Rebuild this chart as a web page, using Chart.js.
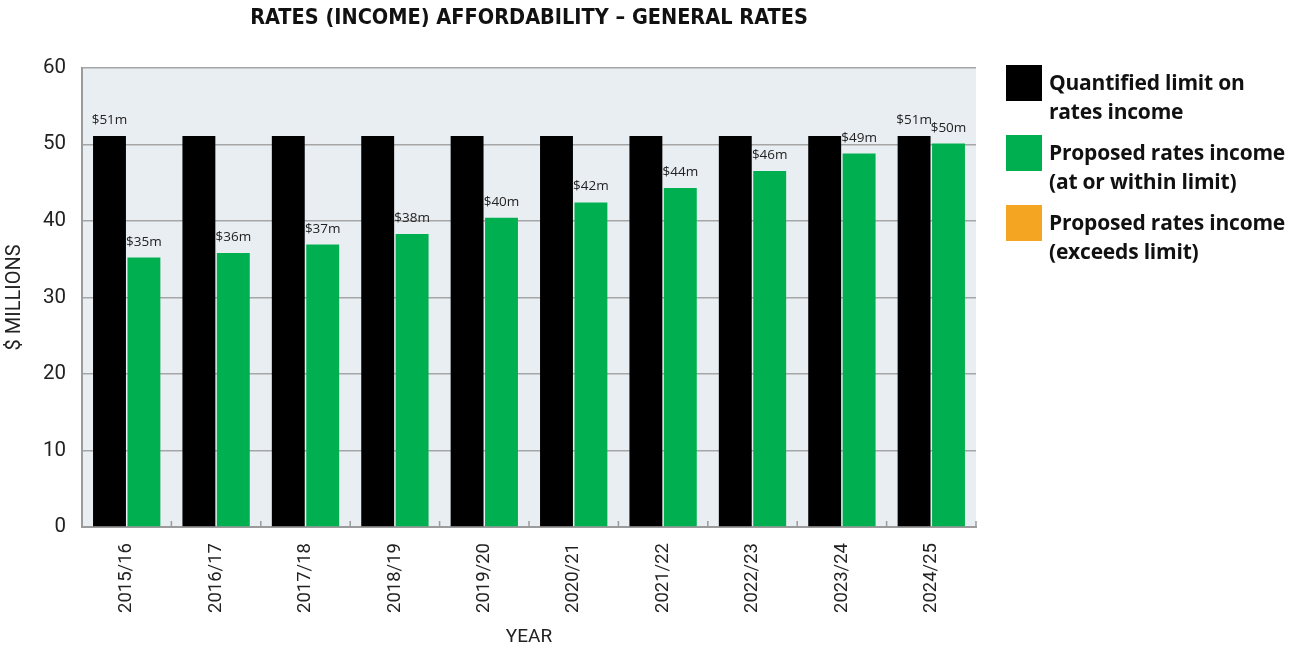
<!DOCTYPE html>
<html>
<head>
<meta charset="utf-8">
<script src="https://cdn.jsdelivr.net/npm/chart.js@4/dist/chart.umd.min.js"></script>
<style>
    html, body { margin: 0; padding: 0; background: #fff; }
    #wrap { position: relative; width: 1291px; height: 649px; }
    #legend { position: absolute; left: 1006px; top: 65px; font-family: "Open Sans", sans-serif; font-weight: 700; font-size: 21px; color: #111; }
    .legend-item { position: relative; height: 70px; }
    .legend-box { position: absolute; left: 0; top: 0; width: 36px; height: 36px; }
    .legend-text { position: absolute; left: 43px; top: 3px; line-height: 29px; white-space: nowrap; letter-spacing: -0.2px; }
</style>
</head>
<body>
<div id="wrap">
    <canvas id="chart" width="1291" height="649"></canvas>
    <div id="legend"></div>
</div>
<script>
// chart data
var years = ["2015/16", "2016/17", "2017/18", "2018/19", "2019/20", "2020/21", "2021/22", "2022/23", "2023/24", "2024/25"];
var limitValues = [51.1, 51.1, 51.1, 51.1, 51.1, 51.1, 51.1, 51.1, 51.1, 51.1];
var proposedValues = [35.2, 35.8, 36.9, 38.3, 40.4, 42.4, 44.3, 46.5, 48.8, 50.1];
var limitLabels = ["$51m", "", "", "", "", "", "", "", "", "$51m"];
var proposedLabels = ["$35m", "$36m", "$37m", "$38m", "$40m", "$42m", "$44m", "$46m", "$49m", "$50m"];
var yTicks = [0, 10, 20, 30, 40, 50, 60];

var legendLabels = ["Quantified limit on<br>rates income", "Proposed rates income<br>(at or within limit)", "Proposed rates income<br>(exceeds limit)"];
var legendColors = ["#000000", "#00b050", "#f4a623"];

(function () {
    var legend = document.getElementById("legend");
    var html = "";
    for (var i = 0; i < legendLabels.length; i++) {
        html += '<div class="legend-item">' +
            '<div class="legend-box" style="background:' + legendColors[i] + '"></div>' +
            '<div class="legend-text">' + legendLabels[i] + '</div>' +
        '</div>';
    }
    legend.innerHTML = html;
})();

var plotBackground = {
    id: "plotBackground",
    beforeDraw: function (chart) {
        var a = chart.chartArea;
        var ctx = chart.ctx;
        ctx.save();
        ctx.fillStyle = "#e9eef2";
        ctx.fillRect(a.left, a.top, a.right - a.left, a.bottom - a.top);
        ctx.restore();
    }
};

// short inward ticks between the year groups
var categoryTicks = {
    id: "categoryTicks",
    afterDatasetsDraw: function (chart) {
        var x = chart.scales.x;
        var a = chart.chartArea;
        var ctx = chart.ctx;
        ctx.save();
        ctx.strokeStyle = "#9b9b9b";
        ctx.lineWidth = 1.5;
        for (var i = 0; i <= years.length; i++) {
            var px = x.getPixelForValue(i - 0.5);
            ctx.beginPath();
            ctx.moveTo(px, a.bottom);
            ctx.lineTo(px, a.bottom - 6);
            ctx.stroke();
        }
        ctx.restore();
    }
};

var barLabels = {
    id: "barLabels",
    afterDatasetsDraw: function (chart) {
        var ctx = chart.ctx;
        var sets = [limitLabels, proposedLabels];
        ctx.save();
        ctx.font = '13.5px "Open Sans", sans-serif';
        ctx.fillStyle = "#222";
        ctx.textAlign = "center";
        ctx.textBaseline = "alphabetic";
        sets.forEach(function (labels, di) {
            var meta = chart.getDatasetMeta(di);
            meta.data.forEach(function (bar, i) {
                if (labels[i]) ctx.fillText(labels[i], bar.x, bar.y - 12);
            });
        });
        ctx.restore();
    }
};

new Chart(document.getElementById("chart"), {
    type: "bar",
    data: {
        labels: years,
        datasets: [
            { label: "Quantified limit on rates income", data: limitValues, backgroundColor: legendColors[0] },
            { label: "Proposed rates income (at or within limit)", data: proposedValues, backgroundColor: legendColors[1] }
        ]
    },
    options: {
        responsive: false,
        animation: false,
        categoryPercentage: 0.77,
        barPercentage: 0.956,
        layout: { padding: { left: 0, right: 315, top: 0, bottom: 0 } },
        plugins: {
            legend: { display: false },
            tooltip: { enabled: false },
            title: {
                display: true,
                text: "RATES (INCOME) AFFORDABILITY \u2013 GENERAL RATES",
                fullSize: false,
                color: "#111",
                font: { family: '"Liberation Sans Narrow", "DejaVu Sans Condensed", "Open Sans", sans-serif', size: 21.5, weight: "bold" },
                padding: { top: 6, bottom: 36 }
            }
        },
        scales: {
            x: {
                grid: { display: false },
                border: { color: "#9b9b9b", width: 2 },
                ticks: {
                    color: "#222",
                    font: { family: "Roboto, sans-serif", size: 18.5 },
                    minRotation: 90,
                    maxRotation: 90,
                    padding: 8
                },
                title: {
                    display: true,
                    text: "YEAR",
                    color: "#222",
                    font: { family: "Roboto, sans-serif", size: 19 },
                    padding: { top: 0, bottom: 0 }
                },
                afterFit: function (scale) { scale.height = 122; }
            },
            y: {
                min: 0,
                max: 60,
                afterBuildTicks: function (scale) {
                    scale.ticks = yTicks.map(function (v) { return { value: v }; });
                },
                grid: { color: "#a6a6a6", lineWidth: 1.5, drawTicks: false },
                border: { color: "#9b9b9b", width: 2 },
                ticks: {
                    color: "#222",
                    font: { family: "Roboto, sans-serif", size: 20.5 },
                    padding: 16
                },
                title: {
                    display: true,
                    text: "$ MILLIONS",
                    color: "#222",
                    font: { family: "Roboto, sans-serif", size: 20 },
                    padding: { top: 3, bottom: 0 }
                },
                afterFit: function (scale) { scale.width = 82; }
            }
        }
    },
    plugins: [plotBackground, categoryTicks, barLabels]
});
</script>
</body>
</html>
